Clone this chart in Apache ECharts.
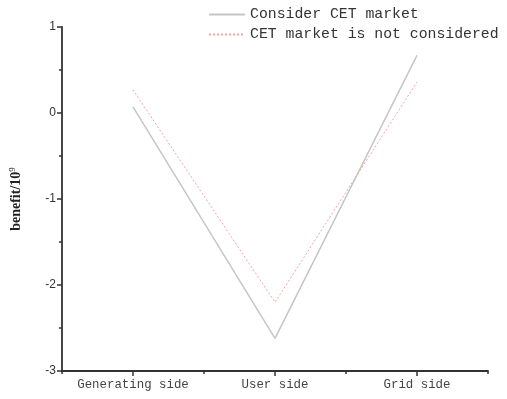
<!DOCTYPE html>
<html><head><meta charset="utf-8">
<script src="https://cdn.jsdelivr.net/npm/echarts@6/dist/echarts.min.js"></script>
<style>html,body{margin:0;padding:0;background:#fff}#c{width:507px;height:399px}</style>
</head><body><div id="c"></div>
<script>
const categories = ['Generating side', 'User side', 'Grid side'];
const considerCET = [0.07, -2.62, 0.67];
const notConsidered = [0.27, -2.2, 0.36];
const seriesNames = ['Consider CET market', 'CET market is not considered'];

const chart = echarts.init(document.getElementById('c'));
const axisColor = '#333';
chart.setOption({
  animation: false,
  backgroundColor: '#fff',
  grid: { left: 61, right: 19, top: 27, bottom: 28 },
  legend: {
    orient: 'vertical', left: 203, top: 2, itemWidth: 36, itemHeight: 10, itemGap: 5,
    itemStyle: { opacity: 0 },
    textStyle: { fontFamily: 'Liberation Mono', fontSize: 14.8, color: '#333' },
    data: seriesNames
  },
  xAxis: [{
    type: 'category', data: categories, boundaryGap: true,
    axisLine: { onZero: false, lineStyle: { color: axisColor, width: 1.8 } },
    axisTick: { show: true, alignWithLabel: true, length: 5, lineStyle: { color: axisColor, width: 1.5 } },
    axisLabel: { interval: 0, fontFamily: 'Liberation Mono', fontSize: 12.4, color: '#444', margin: 8 }
  }, {
    type: 'category', data: categories, boundaryGap: true, position: 'bottom',
    axisLine: { show: false, onZero: false },
    axisTick: { show: true, interval: 0, length: 3, lineStyle: { color: axisColor, width: 1.5 } },
    axisLabel: { show: false }
  }],
  yAxis: {
    type: 'value', min: -3, max: 1, interval: 1,
    name: '{a|benefit/10}{s|9}', nameLocation: 'middle', nameGap: 38, nameRotate: 90,
    nameTextStyle: { rich: {
      a: { fontFamily: 'Liberation Serif', fontSize: 14, color: '#222', fontWeight: 'bold' },
      s: { fontFamily: 'Liberation Serif', fontSize: 9, color: '#222', verticalAlign: 'top', padding: [0,0,7,0] }
    } },
    splitLine: { show: false },
    axisLine: { show: true, lineStyle: { color: axisColor, width: 1.8 } },
    axisTick: { show: true, length: 5, lineStyle: { color: axisColor, width: 1.5 } },
    minorTick: { show: true, splitNumber: 2, length: 3, lineStyle: { color: axisColor, width: 1.5 } },
    axisLabel: { fontFamily: 'Liberation Sans', fontSize: 12, color: '#333', margin: 6 }
  },
  series: [{
    name: seriesNames[0], type: 'line', data: considerCET, symbol: 'none',
    lineStyle: { color: '#c6c6c6', width: 1.5 }, itemStyle: { color: '#c6c6c6' }
  }, {
    name: seriesNames[1], type: 'line', data: notConsidered, symbol: 'none',
    lineStyle: { color: '#f2a4a4', width: 1, type: [2, 2] }, itemStyle: { color: '#f2a4a4' }
  }]
});
</script></body></html>
